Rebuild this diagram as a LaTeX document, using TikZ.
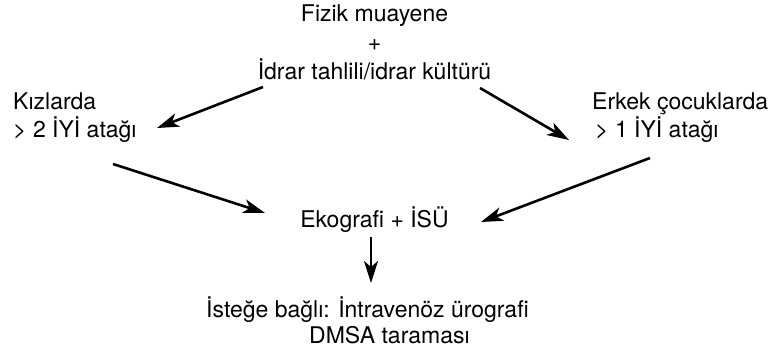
\documentclass[tikz,border=0pt]{standalone}
\usepackage{fontspec}
\setmainfont{TeX Gyre Heros}
\usetikzlibrary{arrows.meta}
\begin{document}
\begin{tikzpicture}[x=1pt,y=1pt,
  txt/.style={inner sep=0pt, anchor=base, font=\fontsize{23}{29}\selectfont},
  arr/.style={line width=2.6pt, -{Stealth[length=22pt,width=14pt,inset=6pt]}}]
\useasboundingbox (0,0) rectangle (770,351);
\fill[white] (0,0) rectangle (770,351);

% text blocks (placed by the baseline of their last line)
\node[txt, align=center] (top) at (374.5,271)
  {Fizik muayene\\+\\İdrar tahlili/idrar kültürü};
\node[txt, align=left, anchor=base west, font=\fontsize{23}{28}\selectfont] (kiz) at (13,213)
  {Kızlarda\\> 2 İYİ atağı};
\node[txt, align=left, anchor=base west, font=\fontsize{23}{28}\selectfont] (erk) at (592,213)
  {Erkek çocuklarda\\\hspace*{3pt}> 1 İYİ atağı};
\node[txt] (eko) at (374.5,124) {Ekografi + İSÜ};
\node[txt, align=left, anchor=base west, font=\fontsize{23}{26}\selectfont] (opt) at (206,8)
  {İsteğe bağlı: İntravenöz ürografi\\\hspace*{103pt}DMSA taraması};

% arrow end points
\coordinate (a1s) at (263,264); \coordinate (a1e) at (157,223);
\coordinate (a2s) at (480,263); \coordinate (a2e) at (569,211);
\coordinate (a3s) at (113,187); \coordinate (a3e) at (265,138);
\coordinate (a4s) at (650,193); \coordinate (a4e) at (481,129);
\coordinate (a5s) at (371,114); \coordinate (a5e) at (371,68);

\draw[arr] (a1s) -- (a1e);
\draw[arr] (a2s) -- (a2e);
\draw[arr] (a3s) -- (a3e);
\draw[arr] (a4s) -- (a4e);
\draw[arr] (a5s) -- (a5e);
\end{tikzpicture}
\end{document}
